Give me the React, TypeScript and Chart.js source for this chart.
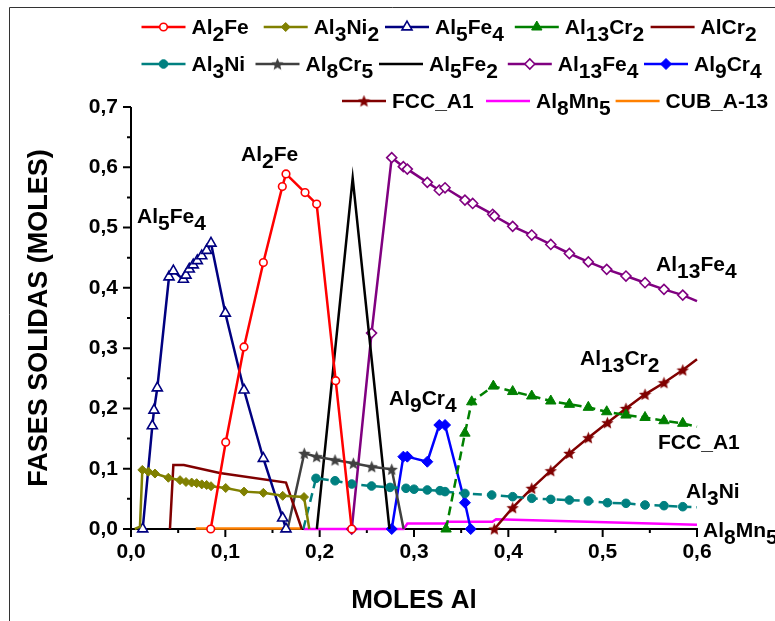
import React, { useEffect, useRef } from 'react';
import { Chart, registerables } from 'chart.js';
import { drawPoint } from 'chart.js/helpers';

Chart.register(...registerables);

// ---------- DATA ----------
const seriesNames = ['Al{2}Fe', 'Al{3}Ni{2}', 'Al{5}Fe{4}', 'Al{13}Cr{2}', 'AlCr{2}', 'Al{3}Ni', 'Al{8}Cr{5}', 'Al{5}Fe{2}', 'Al{13}Fe{4}', 'Al{9}Cr{4}', 'FCC_A1', 'Al{8}Mn{5}', 'CUB_A-13'];

const al2FeX = [0.0845, 0.1004, 0.1198, 0.1403, 0.1604, 0.1643, 0.1845, 0.1968, 0.217, 0.234];
const al2FeY = [0, 0.144, 0.302, 0.442, 0.568, 0.589, 0.558, 0.539, 0.246, 0];

const al3Ni2X = [0.004, 0.0095, 0.012, 0.0184, 0.0254, 0.0396, 0.052, 0.0583, 0.0643, 0.0696, 0.075, 0.0802, 0.0848, 0.1004, 0.1198, 0.1403, 0.1608, 0.1834, 0.189];
const al3Ni2Y = [0, 0.004, 0.098, 0.095, 0.092, 0.085, 0.081, 0.078, 0.077, 0.076, 0.074, 0.073, 0.071, 0.068, 0.062, 0.06, 0.055, 0.053, 0];

const al5Fe4X = [0.0124, 0.0226, 0.0244, 0.0279, 0.0403, 0.0449, 0.0555, 0.0583, 0.0618, 0.066, 0.0703, 0.075, 0.0802, 0.0848, 0.1, 0.1198, 0.1403, 0.1608, 0.1643];
const al5Fe4Y = [0, 0.171, 0.197, 0.234, 0.418, 0.428, 0.414, 0.421, 0.431, 0.438, 0.445, 0.453, 0.462, 0.474, 0.358, 0.2305, 0.117, 0.018, 0];

const al13Cr2X = [0.334, 0.354, 0.3612, 0.3841, 0.4046, 0.4248, 0.445, 0.4647, 0.4848, 0.5043, 0.5247, 0.5449, 0.565, 0.5849, 0.6];
const al13Cr2Y = [0, 0.159, 0.211, 0.237, 0.228, 0.2206, 0.2123, 0.2068, 0.2018, 0.1945, 0.189, 0.185, 0.1796, 0.1753, 0.1697];

const alCr2X = [0.0413, 0.0449, 0.056, 0.094, 0.1643, 0.181];
const alCr2Y = [0, 0.106, 0.106, 0.093, 0.077, 0];

const al3NiX = [0.1827, 0.1961, 0.2163, 0.234, 0.255, 0.2746, 0.2915, 0.3, 0.3141, 0.3276, 0.3329, 0.354, 0.3824, 0.4046, 0.4248, 0.445, 0.4647, 0.4848, 0.505, 0.5247, 0.5449, 0.565, 0.5849, 0.6];
const al3NiY = [0, 0.084, 0.08, 0.0746, 0.0713, 0.069, 0.0675, 0.066, 0.0647, 0.0636, 0.062, 0.059, 0.0564, 0.0536, 0.0509, 0.0492, 0.048, 0.0464, 0.0436, 0.0426, 0.0398, 0.0387, 0.037, 0.036];

const al8Cr5X = [0.166, 0.1837, 0.1968, 0.2163, 0.2357, 0.2552, 0.2764, 0.289];
const al8Cr5Y = [0, 0.1255, 0.12, 0.1144, 0.109, 0.1033, 0.099, 0];

const al5Fe2X = [0.197, 0.235, 0.274];
const al5Fe2Y = [0, 0.582, 0];

const al13Fe4X = [0.234, 0.255, 0.2764, 0.2887, 0.2929, 0.3141, 0.3268, 0.3329, 0.354, 0.3622, 0.3834, 0.3852, 0.4046, 0.4248, 0.445, 0.4647, 0.4848, 0.5043, 0.5247, 0.5449, 0.565, 0.5849, 0.6];
const al13Fe4Y = [0, 0.325, 0.616, 0.601, 0.597, 0.575, 0.562, 0.566, 0.5456, 0.54, 0.522, 0.519, 0.502, 0.4876, 0.472, 0.457, 0.443, 0.4307, 0.4196, 0.4085, 0.3975, 0.388, 0.378];

const al9Cr4X = [0.2764, 0.2887, 0.2929, 0.3141, 0.3268, 0.3329, 0.354, 0.3601];
const al9Cr4Y = [0, 0.12, 0.12, 0.1116, 0.1725, 0.1725, 0.0436, 0];

const fccA1X = [0.3852, 0.4046, 0.4248, 0.445, 0.4647, 0.4848, 0.505, 0.5247, 0.5449, 0.565, 0.5849, 0.6];
const fccA1Y = [0, 0.0353, 0.0675, 0.0967, 0.1255, 0.1514, 0.1763, 0.2, 0.2234, 0.2426, 0.2637, 0.2814];

const al8Mn5X = [0.183, 0.289, 0.293, 0.333, 0.336, 0.383, 0.387, 0.6];
const al8Mn5Y = [0, 0, 0.009, 0.009, 0.012, 0.012, 0.016, 0.007];

const cubA13X = [0.0686, 0.181];
const cubA13Y = [0.001, 0.001];

const xTickValues = [0, 0.1, 0.2, 0.3, 0.4, 0.5, 0.6];
const yTickValues = [0, 0.1, 0.2, 0.3, 0.4, 0.5, 0.6, 0.7];

const xTitle = 'MOLES Al';
const yTitle = 'FASES SOLIDAS (MOLES)';

// in-plot labels (anchored in data units)
const annotTexts = ['Al{2}Fe', 'Al{5}Fe{4}', 'Al{9}Cr{4}', 'Al{13}Cr{2}', 'Al{13}Fe{4}', 'FCC_A1', 'Al{3}Ni', 'Al{8}Mn{5}'];
const annotX = [0.1166, 0.0064, 0.2735, 0.476, 0.5566, 0.5587, 0.5883, 0.6064];
const annotY = [0.61, 0.5075, 0.2056, 0.272, 0.428, 0.1327, 0.0514, -0.0133];

// ---------- STYLE ----------
const FONT = '"Liberation Sans", Arial, Helvetica, sans-serif';

function makeStar(color: string, size: number) {
  const c = document.createElement('canvas');
  c.width = size;
  c.height = size;
  const g = c.getContext('2d')!;
  const cx = size / 2, cy = size / 2 + 0.6, R = size / 2, r = R * 0.45;
  g.beginPath();
  for (let i = 0; i < 10; i++) {
    const a = -Math.PI / 2 + (i * Math.PI) / 5;
    const rr = i % 2 === 0 ? R : r;
    g.lineTo(cx + rr * Math.cos(a), cy + rr * Math.sin(a));
  }
  g.closePath();
  g.fillStyle = color;
  g.fill();
  return c;
}

type Style = { color: string; point: any; filled: boolean; r: number; dash: number[] };

function buildStyles(): Style[] {
  return [
    { color: '#FF0000', point: 'circle', filled: false, r: 3.8, dash: [] },
    { color: '#808000', point: 'rectRot', filled: true, r: 4.5, dash: [] },
    { color: '#000080', point: 'triangle', filled: false, r: 5.8, dash: [] },
    { color: '#008000', point: 'triangle', filled: true, r: 6, dash: [9, 5] },
    { color: '#800000', point: null, filled: false, r: 0, dash: [] },
    { color: '#008080', point: 'circle', filled: true, r: 4.3, dash: [9, 5] },
    { color: '#404040', point: makeStar('#404040', 13), filled: true, r: 6, dash: [] },
    { color: '#000000', point: null, filled: false, r: 0, dash: [] },
    { color: '#800080', point: 'rectRot', filled: false, r: 5, dash: [] },
    { color: '#0000FF', point: 'rectRot', filled: true, r: 5.5, dash: [] },
    { color: '#800000', point: makeStar('#800000', 13), filled: true, r: 6, dash: [] },
    { color: '#FF00FF', point: null, filled: false, r: 0, dash: [] },
    { color: '#FF8000', point: null, filled: false, r: 0, dash: [] },
  ];
}

const seriesX = [al2FeX, al3Ni2X, al5Fe4X, al13Cr2X, alCr2X, al3NiX, al8Cr5X, al5Fe2X, al13Fe4X, al9Cr4X, fccA1X, al8Mn5X, cubA13X];
const seriesY = [al2FeY, al3Ni2Y, al5Fe4Y, al13Cr2Y, alCr2Y, al3NiY, al8Cr5Y, al5Fe2Y, al13Fe4Y, al9Cr4Y, fccA1Y, al8Mn5Y, cubA13Y];
// series whose last point (at the right edge) carries no marker
const noEndMarker = [3, 5, 8, 10];
// series whose points lying on the baseline carry no marker
const noZeroMarker = [1, 5, 6];

// legend layout (page pixels): line start x, row centre y
const legendPos = [
  [141.5, 27], [263.7, 27], [385, 27], [514.8, 27], [650.6, 27],
  [141.5, 64], [255.5, 64], [379, 64], [507.8, 64], [644, 64],
  [342, 101], [486, 101], [615.6, 101],
];

function drawRich(ctx: CanvasRenderingContext2D, text: string, x: number, y: number) {
  const parts = text.split(/(\{[^}]*\})/).filter((p) => p.length > 0);
  let cx = x;
  for (const p of parts) {
    const sub = p.startsWith('{');
    const t = sub ? p.slice(1, -1) : p;
    ctx.fillText(t, cx, sub ? y + 7 : y);
    cx += ctx.measureText(t).width;
  }
}

const fmt = (v: any) => Number(v).toFixed(1).replace('.', ',');

export default function App() {
  const ref = useRef<HTMLCanvasElement>(null);

  useEffect(() => {
    const styles = buildStyles();
    const datasets = seriesNames.map((name, i) => {
      const st = styles[i];
      const n = seriesX[i].length;
      const ys = seriesY[i];
      return {
        label: name.replace(/[{}]/g, ''),
        data: seriesX[i].map((x, k) => ({ x, y: ys[k] })),
        borderColor: st.color,
        backgroundColor: st.color,
        borderWidth: 2.5,
        borderDash: st.dash,
        pointStyle: st.point || 'circle',
        pointRadius: st.point
          ? (ctx: any) => {
              const k = ctx.dataIndex;
              if (noEndMarker.includes(i) && k === n - 1) return 0;
              if (noZeroMarker.includes(i) && ys[k] < 0.01) return 0;
              return st.r;
            }
          : 0,
        pointBorderWidth: st.filled ? 1 : 1.6,
        pointBorderColor: st.color,
        pointBackgroundColor: st.filled ? st.color : '#FFFFFF',
        tension: 0,
        clip: false as any,
      };
    });

    const axesPlugin = {
      id: 'axesPlugin',
      beforeDatasetsDraw(chart: any) {
        const { ctx, chartArea, scales } = chart;
        const xs = scales.x, ys = scales.y;
        ctx.save();
        ctx.strokeStyle = '#000';
        ctx.lineWidth = 2;
        ctx.lineCap = 'butt';
        ctx.beginPath();
        ctx.moveTo(chartArea.left, chartArea.top);
        ctx.lineTo(chartArea.left, chartArea.bottom + 1);
        ctx.moveTo(chartArea.left - 1, chartArea.bottom);
        ctx.lineTo(chartArea.right + 1, chartArea.bottom);
        for (let k = 0; k <= 12; k++) {
          const v = k * 0.05;
          const px = xs.getPixelForValue(v);
          const len = k % 2 === 0 ? 8 : 4;
          ctx.moveTo(px, chartArea.bottom);
          ctx.lineTo(px, chartArea.bottom + len);
        }
        for (let k = 0; k <= 14; k++) {
          const v = k * 0.05;
          const py = ys.getPixelForValue(v);
          const len = k % 2 === 0 ? 8 : 4;
          ctx.moveTo(chartArea.left, py);
          ctx.lineTo(chartArea.left - len, py);
        }
        ctx.stroke();
        ctx.restore();
      },
      afterDraw(chart: any) {
        const { ctx, scales } = chart;
        ctx.save();
        // outer frame
        ctx.strokeStyle = '#333';
        ctx.lineWidth = 1;
        ctx.beginPath();
        ctx.moveTo(9.5, 621);
        ctx.lineTo(9.5, 7.5);
        ctx.lineTo(775, 7.5);
        ctx.stroke();

        ctx.font = `bold 21px ${FONT}`;
        ctx.textAlign = 'left';
        ctx.textBaseline = 'alphabetic';

        // legend
        seriesNames.forEach((name, i) => {
          const st = styles[i];
          const [lx, ly] = legendPos[i];
          ctx.strokeStyle = st.color;
          ctx.lineWidth = 2.5;
          ctx.setLineDash([]);
          ctx.beginPath();
          ctx.moveTo(lx, ly);
          ctx.lineTo(lx + 44, ly);
          ctx.stroke();
          if (st.point) {
            ctx.fillStyle = st.filled ? st.color : '#FFFFFF';
            ctx.strokeStyle = st.color;
            ctx.lineWidth = st.filled ? 1 : 1.6;
            drawPoint(ctx, { pointStyle: st.point, radius: st.r, rotation: 0, borderWidth: ctx.lineWidth } as any, lx + 22, ly);
          }
          ctx.fillStyle = '#000';
          drawRich(ctx, name, lx + 50, ly + 6.5);
        });

        // in-plot labels
        ctx.fillStyle = '#000';
        annotTexts.forEach((t, i) => {
          const px = scales.x.getPixelForValue(annotX[i]);
          const py = scales.y.getPixelForValue(annotY[i]);
          drawRich(ctx, t, px, py);
        });
        ctx.restore();
      },
    };

    const chart = new Chart(ref.current!, {
      type: 'line',
      data: { datasets: datasets as any },
      options: {
        responsive: false,
        animation: false,
        events: [],
        layout: { padding: { left: 0, right: 78, top: 107, bottom: 0 } },
        plugins: { legend: { display: false }, tooltip: { enabled: false } },
        scales: {
          x: {
            type: 'linear',
            min: 0,
            max: 0.6,
            afterFit: (s: any) => { s.height = 92; },
            afterBuildTicks: (s: any) => { s.ticks = xTickValues.map((v) => ({ value: v })); },
            grid: { display: false, drawTicks: false },
            border: { display: false },
            ticks: {
              autoSkip: false,
              maxRotation: 0,
              padding: 11,
              color: '#000',
              font: { family: FONT, size: 21, weight: 'bold' },
              callback: fmt,
            },
            title: {
              display: true,
              text: xTitle,
              color: '#000',
              font: { family: FONT, size: 26, weight: 'bold' },
              padding: { top: 0, bottom: 5 },
            },
          },
          y: {
            type: 'linear',
            min: 0,
            max: 0.7,
            afterFit: (s: any) => { s.width = 131; },
            afterBuildTicks: (s: any) => { s.ticks = yTickValues.map((v) => ({ value: v })); },
            grid: { display: false, drawTicks: false },
            border: { display: false },
            ticks: {
              autoSkip: false,
              padding: 13,
              color: '#000',
              font: { family: FONT, size: 21, weight: 'bold' },
              callback: fmt,
            },
            title: {
              display: true,
              text: yTitle,
              color: '#000',
              font: { family: FONT, size: 27, weight: 'bold' },
              padding: { top: 23, bottom: 0 },
            },
          },
        },
      },
      plugins: [axesPlugin],
    } as any);

    return () => chart.destroy();
  }, []);

  return (
    <div style={{ position: 'fixed', left: 0, top: 0, width: 775, height: 621, background: '#fff' }}>
      <canvas ref={ref} width={775} height={621} style={{ display: 'block', width: 775, height: 621 }} />
    </div>
  );
}
